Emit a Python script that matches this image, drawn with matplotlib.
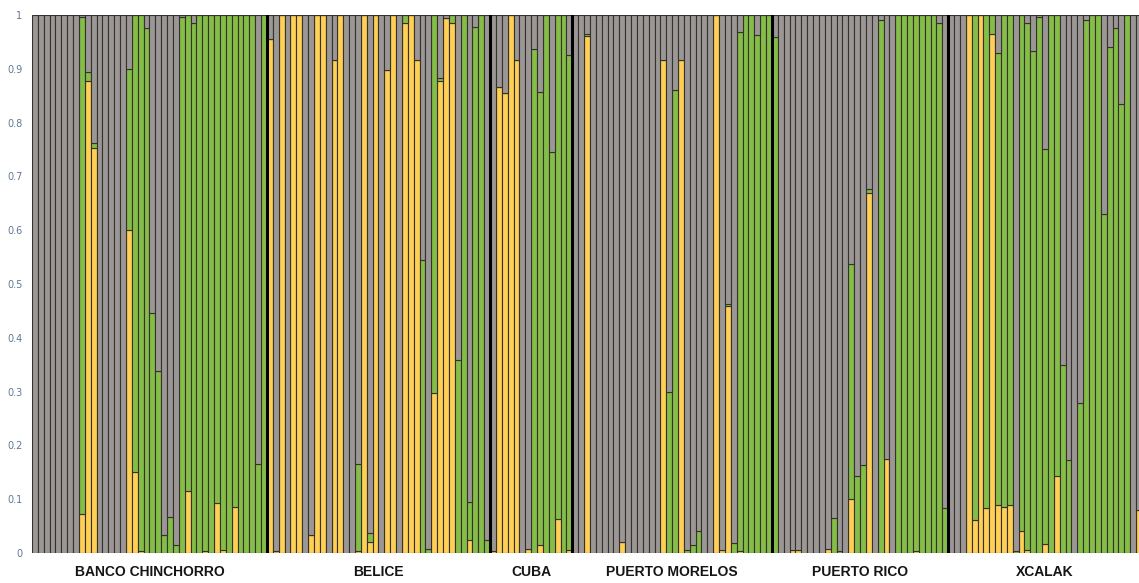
import matplotlib.pyplot as plt
import numpy as np

# --- Data: ancestry proportions per individual (yellow / green, rest is gray) ---
populations = ["BANCO CHINCHORRO", "BELICE", "CUBA", "PUERTO MORELOS", "PUERTO RICO", "XCALAK"]

banco_yellow = [0, 0, 0, 0, 0, 0, 0, 0, .072, .877, .752, 0, 0, 0, 0, 0, .6, .15, .003, 0,
                0, 0, 0, 0, 0, 0, .116, 0, 0, .003, 0, .093, .005, 0, .086, 0, 0, 0, 0, 0]
banco_green = [0, 0, 0, 0, 0, 0, 0, 0, .925, .017, .01, 0, 0, 0, 0, 0, .3, .85, .997, .975,
               .446, .338, .034, .067, .014, .997, .884, .986, 1, .997, 1, .907, .995, 1, .914, 1, 1, 1, .166, 1]

belice_yellow = [.955, .003, 1, 0, 1, 1, 0, .033, 1, 1, 0, .917, 1, 0, 0, .003, 1, .02, 1, 0,
                 .898, 1, 0, .985, 1, .917, 0, 0, .298, .877, .994, .986, 0, 0, .024, 0, 0, 0]
belice_green = [0, 0, 0, 0, 0, 0, 0, 0, 0, 0, 0, 0, 0, 0, 0, .163, 0, .018, 0, 0,
                0, 0, 0, .015, 0, 0, .545, .008, .702, .005, 0, .014, .358, 1, .07, .978, 1, .025]

cuba_yellow = [.003, .866, .855, 1, .917, 0, .008, 0, .015, 0, 0, .063, 0, .005]
cuba_green = [0, 0, 0, 0, 0, 0, 0, .936, .842, 1, .745, .937, 1, .92]

pm_yellow = [0, 0, .961, 0, 0, 0, 0, 0, .02, 0, 0, 0, 0, 0, 0, .917, 0, 0, .917, 0,
             0, 0, 0, 0, 1, .005, .46, 0, .004, 0, 0, 0, 0, 0]
pm_green = [0, 0, .003, 0, 0, 0, 0, 0, 0, 0, 0, 0, 0, 0, 0, 0, .3, .86, 0, .005,
            .014, .04, 0, 0, 0, 0, .003, .018, .964, 1, 1, .963, 1, 1]

pr_yellow = [0, 0, 0, .005, .005, 0, 0, 0, 0, .008, 0, 0, 0, .1, 0, 0, .669, 0, 0, .175,
             0, 0, 0, 0, .004, 0, 0, 0, 0, 0]
pr_green = [.959, 0, 0, 0, 0, 0, 0, 0, 0, 0, .065, .003, 0, .437, .143, .163, .007, 0, .99, 0,
            0, 1, 1, 1, .996, 1, 1, 1, .985, .083]

xcalak_yellow = [0, 0, 0, 1, .062, 1, .084, .965, .09, .085, .09, 0, .041, .005, 0, 0, .016, 0, .143, 0,
                 0, 0, 0, 0, 0, 0, 0, 0, 0, 0, 0, 0, .08]
xcalak_green = [0, 0, 0, 0, .938, 0, .916, .035, .84, .915, .91, .003, .959, .98, .934, .997, .735, 1, .857, .35,
                .172, 0, .279, .99, 1, 1, .631, .94, .976, .834, 1, 0, 0]

yellow_groups = [banco_yellow, belice_yellow, cuba_yellow, pm_yellow, pr_yellow, xcalak_yellow]
green_groups = [banco_green, belice_green, cuba_green, pm_green, pr_green, xcalak_green]

yellow = np.concatenate(yellow_groups)
green = np.concatenate(green_groups)
gray = 1 - yellow - green
sizes = [len(g) for g in yellow_groups]

# --- Colors ---
c_yellow = "#ffcf56"
c_green = "#84bd48"
c_gray = "#9b9797"
c_edge = "#36322a"

# --- Plot setup ---
fig = plt.figure(figsize=(11.39, 5.83), dpi=100)
ax = fig.add_axes([32 / 1139, 30 / 583, 1 - 32 / 1139, 538 / 583])

x = np.arange(len(yellow))
kw = dict(width=1.0, edgecolor=c_edge, linewidth=0.8)
ax.bar(x, yellow, color=c_yellow, **kw)
ax.bar(x, green, bottom=yellow, color=c_green, **kw)
ax.bar(x, gray, bottom=yellow + green, color=c_gray, **kw)

# --- Population separators and labels ---
edges = np.cumsum(sizes)
for e in edges[:-1]:
    ax.axvline(e - 0.5, color="black", lw=2.2)

starts = np.concatenate([[0], edges[:-1]])
for name, s, n in zip(populations, starts, sizes):
    ax.text(s + n / 2 - 0.5, -0.036, name, ha="center", va="center",
            fontsize=10, fontweight="bold", family=["Liberation Sans", "DejaVu Sans"],
            color="#151515", transform=ax.get_xaxis_transform())

# --- Axes ---
ax.set_xlim(-0.5, 188.0)
ax.set_ylim(0, 1)
ax.set_xticks([])
ax.set_yticks(np.arange(0, 1.01, 0.1))
ax.set_yticklabels(["0", "0.1", "0.2", "0.3", "0.4", "0.5", "0.6", "0.7", "0.8", "0.9", "1"])
ax.tick_params(axis="y", length=0, pad=7, labelsize=7, labelcolor="#5f7893")
for sp in ax.spines.values():
    sp.set_visible(False)

plt.savefig("out.png", dpi=100)
